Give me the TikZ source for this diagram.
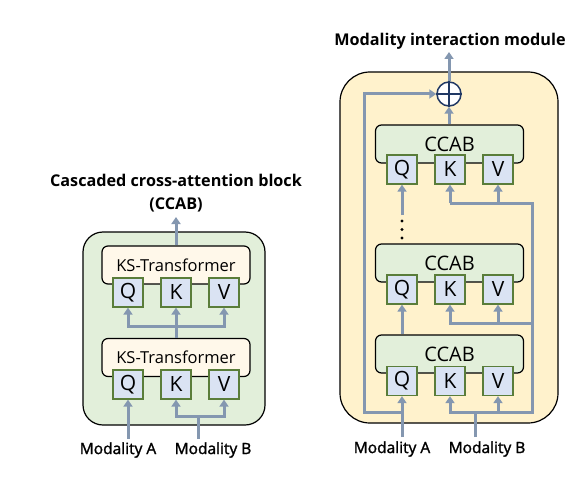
\documentclass[tikz,border=0pt]{standalone}
\usepackage{fontspec}
\setmainfont{Open Sans}
\newfontfamily\labelfont[FakeBold=1.6]{Open Sans}
\usetikzlibrary{arrows.meta}
\definecolor{flow}{HTML}{8497B0}
\definecolor{qkvfill}{HTML}{DAE3F3}
\definecolor{qkvedge}{HTML}{5A7D3A}
\definecolor{blockgreen}{HTML}{E2EFDA}
\definecolor{cream}{HTML}{FFF8EA}
\definecolor{modyellow}{HTML}{FFF2CC}
\definecolor{navy}{HTML}{203864}
\begin{document}
\begin{tikzpicture}[x=1pt,y=-1pt,
  flowline/.style={draw=flow,line width=3pt,line cap=rect},
  flowarrow/.style={draw=flow,line width=3pt,-{Triangle[length=7pt,width=9pt]}},
  qkv/.style={draw=qkvedge,fill=qkvfill,line width=1.3pt,minimum width=30pt,minimum height=29pt,inner sep=0pt,font=\fontsize{21}{21}\selectfont},
  outerbox/.style={draw=black,line width=1.2pt},
  innerbox/.style={draw=black,line width=1.2pt,rounded corners=6pt,inner sep=0pt,minimum width=148pt,minimum height=38pt},
  ksbox/.style={innerbox,fill=cream,font=\fontsize{16.5}{17}\selectfont},
  ccab/.style={innerbox,fill=blockgreen,font=\fontsize{20}{20}\selectfont},
  title/.style={font=\bfseries\fontsize{16.2}{23}\selectfont,align=center},
  modlabel/.style={font=\labelfont\fontsize{15.5}{16}\selectfont}
]
\useasboundingbox (0,0) rectangle (583,484);

% ---------- cascaded cross-attention block ----------
\node[title] (ltitle) at (176,193) {Cascaded cross-attention block\\(CCAB)};
\draw[outerbox,fill=blockgreen,rounded corners=20pt] (83,232) rectangle (265,425);

\node[ksbox] (ks2) at (176,265) {KS-Transformer};
\node[qkv] (q2) at (128,292.5) {Q};
\node[qkv] (k2) at (176,292.5) {K};
\node[qkv] (v2) at (224,292.5) {V};

\node[ksbox] (ks1) at (176,357.5) {KS-Transformer};
\node[qkv] (q1) at (128,384.5) {Q};
\node[qkv] (k1) at (176,384.5) {K};
\node[qkv] (v1) at (224,384.5) {V};

\node[modlabel] (lma) at (118,450) {Modality A};
\node[modlabel] (lmb) at (213,450) {Modality B};

\coordinate (lout) at (176,217);
\coordinate (lsq) at (128,326);
\coordinate (lsk) at (176,326);
\coordinate (lsv) at (224,326);
\coordinate (lbk) at (176,416);
\coordinate (lbm) at (198,416);
\coordinate (lbv) at (224,416);

\draw[flowarrow] (ks2.north) -- (lout);
\draw[flowline] (lsq) -- (lsv);
\draw[draw=flow,line width=3pt] (ks1.north) -- (lsk);
\draw[flowarrow] (lsq) -- (q2.south);
\draw[flowarrow] (lsk) -- (k2.south);
\draw[flowarrow] (lsv) -- (v2.south);

\draw[flowarrow] (128,439) -- (q1.south);
\draw[draw=flow,line width=3pt] (198,439) -- (lbm);
\draw[flowline] (lbk) -- (lbv);
\draw[flowarrow] (lbk) -- (k1.south);
\draw[flowarrow] (lbv) -- (v1.south);

% ---------- modality interaction module ----------
\node[title] (rtitle) at (450,41) {Modality interaction module};
\draw[outerbox,fill=modyellow,rounded corners=30pt] (340,72) rectangle (558,423);

\node[draw=navy,fill=white,line width=1.5pt,circle,minimum size=24pt,inner sep=0pt] (sum) at (449,94) {};
\draw[navy,line width=1.5pt] (sum.north) -- (sum.south) (sum.west) -- (sum.east);

\node[ccab] (c3) at (449.5,144) {CCAB};
\node[qkv] (q3) at (402,169.5) {Q};
\node[qkv] (k3) at (450,169.5) {K};
\node[qkv] (v3) at (498,169.5) {V};

\node[ccab] (c2) at (449.5,263) {CCAB};
\node[qkv] (qb) at (402,289.5) {Q};
\node[qkv] (kb) at (450,289.5) {K};
\node[qkv] (vb) at (498,289.5) {V};

\node[ccab] (c1) at (449.5,354) {CCAB};
\node[qkv] (qa) at (402,381) {Q};
\node[qkv] (ka) at (450,381) {K};
\node[qkv] (va) at (498,381) {V};

\node[modlabel] (rma) at (392,449) {Modality A};
\node[modlabel] (rmb) at (487,449) {Modality B};

\coordinate (rout) at (449,52);
\coordinate (skipbot) at (364,412);
\coordinate (skiptop) at (364,94);
\coordinate (qjoin) at (402,412);
\coordinate (rbk) at (450,412);
\coordinate (rbm) at (475,412);
\coordinate (rbv) at (498,412);
\coordinate (rbr) at (532,412);
\coordinate (rmk) at (450,323);
\coordinate (rmv) at (498,323);
\coordinate (rmr) at (532,323);
\coordinate (rtk) at (450,203);
\coordinate (rtv) at (498,203);
\coordinate (rtr) at (532,203);
\coordinate (dotsstart) at (402,215);

\draw[flowarrow] (sum.north) -- (rout);
\draw[flowarrow] (c3.north -| sum) -- (sum.south);
\draw[draw=flow,line width=3pt,line join=miter,-{Triangle[length=7pt,width=9pt]}] (qjoin) -- (skipbot) -- (skiptop) -- (sum.west);

\draw[flowarrow] (402,437) -- (qa.south);
\draw[draw=flow,line width=3pt] (475,437) -- (rbm);
\draw[flowline] (rbk) -- (rbr);
\draw[draw=flow,line width=3pt,line join=miter] (rbr) -- (rtr) -- (rtk);
\draw[flowline] (rmk) -- (rmr);
\draw[flowarrow] (rbk) -- (ka.south);
\draw[flowarrow] (rbv) -- (va.south);
\draw[flowarrow] (rmk) -- (kb.south);
\draw[flowarrow] (rmv) -- (vb.south);
\draw[flowarrow] (rtk) -- (k3.south);
\draw[flowarrow] (rtv) -- (v3.south);

\draw[flowarrow] (c1.north -| qa) -- (qb.south);
\draw[flowarrow] (dotsstart) -- (q3.south);
\foreach \y in {221,229.5,238} \fill (402,\y) circle (1.6pt);
\end{tikzpicture}
\end{document}
